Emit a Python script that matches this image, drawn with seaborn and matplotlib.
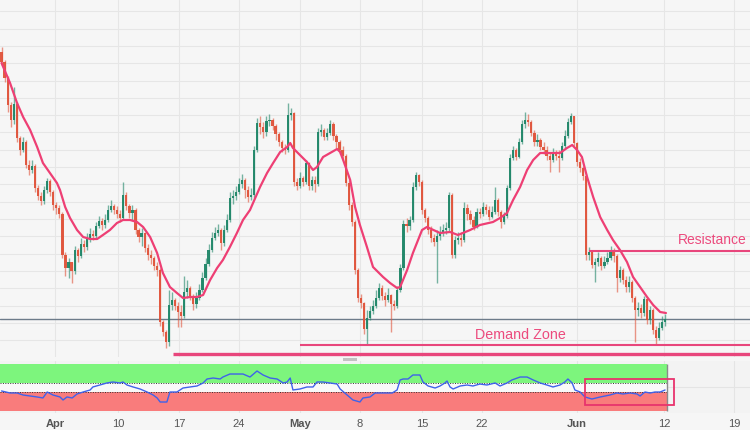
import numpy as np
import pandas as pd
import matplotlib
matplotlib.use("Agg")
import matplotlib.pyplot as plt
import seaborn as sns
from matplotlib.patches import Rectangle

sns.set_theme(style="white")
plt.rcParams['font.family'] = ['Liberation Sans', 'DejaVu Sans']

# ---------------- data (arbitrary price units) ----------------
first_open = 348
close = [338, 322, 295, 280, 296, 262, 250, 258, 235, 230,
         234, 212, 204, 199, 210, 219, 208, 195, 192, 186,
         145, 132, 138, 129, 150, 144, 156, 153, 162, 166,
         164, 174, 179, 175, 180, 190, 194, 190, 186, 182,
         205, 194, 187, 190, 170, 163, 167, 152, 145, 142,
         134, 130, 78, 68, 58, 95, 100, 94, 88, 84,
         108, 112, 104, 96, 102, 110, 122, 136, 150, 162,
         167, 170, 157, 170, 180, 202, 204, 208, 216, 220,
         210, 203, 205, 250, 277, 273, 268, 279, 280, 274,
         266, 258, 252, 250, 285, 287, 218, 214, 222, 218,
         237, 214, 220, 216, 268, 270, 263, 267, 276, 264,
         258, 250, 244, 217, 195, 178, 130, 102, 97, 71,
         82, 89, 94, 102, 112, 104, 100, 105, 96, 94,
         110, 132, 176, 174, 180, 213, 225, 218, 190, 182,
         170, 162, 158, 164, 168, 170, 172, 205, 145, 160,
         162, 160, 192, 186, 180, 173, 188, 186, 193, 190,
         183, 188, 200, 188, 178, 184, 212, 242, 250, 243,
         258, 276, 280, 278, 267, 258, 260, 253, 250, 244,
         240, 247, 244, 242, 254, 264, 278, 284, 257, 238,
         232, 224, 145, 148, 135, 138, 142, 134, 138, 142,
         148, 144, 122, 130, 120, 113, 118, 102, 90, 92,
         87, 101, 80, 90, 70, 62, 72, 78, 81]
high = [353, 340, 324, 298, 313, 298, 264, 263, 260, 240,
        240, 236, 215, 208, 214, 222, 221, 210, 198, 195,
        188, 148, 142, 138, 154, 152, 162, 160, 167, 172,
        170, 178, 184, 182, 186, 195, 200, 196, 194, 190,
        218, 208, 196, 195, 192, 172, 172, 168, 156, 150,
        144, 138, 132, 80, 70, 110, 108, 102, 98, 95,
        124, 120, 114, 106, 108, 116, 128, 142, 156, 168,
        173, 176, 172, 175, 186, 208, 210, 214, 222, 226,
        222, 214, 212, 254, 282, 284, 278, 284, 286, 282,
        276, 268, 260, 256, 297, 292, 288, 222, 228, 224,
        240, 238, 224, 224, 272, 276, 272, 272, 280, 278,
        266, 260, 254, 246, 220, 198, 180, 132, 106, 98,
        90, 94, 100, 110, 117, 115, 108, 112, 106, 100,
        114, 136, 180, 182, 184, 218, 228, 226, 220, 192,
        184, 174, 166, 170, 174, 176, 178, 208, 207, 164,
        168, 168, 198, 196, 190, 184, 192, 192, 198, 196,
        194, 194, 213, 202, 190, 188, 215, 246, 254, 252,
        262, 280, 288, 286, 280, 270, 266, 262, 258, 254,
        248, 252, 250, 250, 258, 270, 282, 287, 284, 258,
        242, 234, 226, 153, 150, 142, 148, 144, 144, 148,
        154, 152, 146, 134, 132, 124, 124, 120, 104, 98,
        96, 104, 102, 94, 92, 74, 78, 84, 86]
low = [335, 318, 288, 273, 276, 258, 245, 248, 232, 225,
       227, 208, 200, 195, 196, 207, 204, 190, 186, 182,
       142, 124, 122, 117, 126, 138, 142, 148, 150, 158,
       160, 162, 172, 170, 172, 178, 188, 186, 182, 178,
       180, 190, 182, 180, 166, 158, 154, 148, 140, 136,
       130, 124, 74, 64, 52, 54, 90, 90, 73, 73,
       82, 102, 100, 90, 92, 100, 108, 120, 134, 148,
       160, 164, 150, 154, 168, 178, 196, 200, 206, 212,
       202, 198, 200, 202, 248, 266, 262, 264, 274, 270,
       260, 254, 248, 246, 248, 280, 214, 210, 212, 214,
       216, 210, 210, 208, 214, 264, 260, 260, 265, 260,
       252, 246, 240, 214, 190, 174, 126, 98, 92, 66,
       55, 80, 86, 92, 100, 100, 94, 98, 68, 90,
       92, 108, 130, 168, 170, 178, 210, 214, 186, 178,
       166, 158, 154, 117, 160, 164, 166, 168, 142, 142,
       156, 154, 158, 180, 176, 170, 172, 182, 184, 186,
       180, 182, 186, 184, 172, 176, 182, 210, 240, 240,
       242, 256, 272, 274, 264, 254, 254, 250, 246, 240,
       228, 238, 240, 228, 240, 252, 262, 276, 254, 234,
       228, 220, 140, 140, 132, 118, 134, 130, 132, 136,
       140, 138, 108, 118, 116, 108, 108, 98, 58, 84,
       82, 84, 76, 76, 66, 55, 60, 70, 74]

ma_x = [0, 2.8, 5.1, 7.1, 9.4, 11.7, 13.6, 15.9, 18.2, 19.2, 20.9, 22.5, 24.8, 26.8,
        29.1, 31.4, 33.3, 35.6, 37.9, 39.9, 42.2, 44.5, 46.5, 48.8, 51.1, 53.0, 55.3,
        57.6, 59.6, 61.9, 64.2, 66.2, 68.5, 70.8, 72.7, 75.0, 77.3, 79.3, 81.6, 82.6,
        84.9, 87.2, 89.2, 91.5, 93.8, 94.8, 95.7, 98.0, 100.3, 102.3, 103.6, 105.6,
        107.9, 110.2, 111.2, 112.2, 114.5, 116.1, 117.7, 120.0, 122.0, 125.3, 127.6,
        129.9, 130.9, 133.2, 135.1, 138.1, 139.7, 144.0, 147.3, 149.9, 153.9, 157.1,
        161.4, 163.7, 166.0, 168.0, 170.3, 172.6, 174.6, 176.9, 179.1, 181.1, 183.4,
        185.7, 187.4, 189.0, 190.6, 192.3, 194.3, 196.6, 198.9, 200.8, 203.1, 205.4,
        207.4, 209.7, 212.0, 214.0, 216.3, 218.2]
ma_y = [337, 317, 297, 283, 270, 253, 237, 227, 217, 210, 193, 182, 170, 163,
        161, 161, 165, 170, 177, 180, 180, 178, 173, 163, 147, 127, 113,
        107, 102, 103, 103, 105, 120, 132, 140, 153, 167, 180, 190, 197,
        213, 227, 237, 248, 253, 257, 252, 245, 238, 230, 233, 243,
        247, 251, 248, 240, 220, 193, 175, 153, 133, 123, 117,
        112, 113, 130, 147, 170, 173, 167, 168, 165, 170, 175,
        178, 182, 187, 200, 213, 230, 240, 247, 247, 247, 247,
        252, 255, 250, 243, 223, 203, 183, 170, 160, 150, 138,
        123, 113, 103, 95, 88, 87]

rsi_x = [0, 2.8, 5.1, 7.1, 9.4, 11.7, 13.6, 15.0, 16.9, 19.2, 20.2, 21.5, 23.2, 24.8,
         26.8, 29.1, 30.0, 32.3, 34.6, 36.6, 38.9, 39.9, 41.2, 43.2, 45.5, 47.8, 49.8,
         51.1, 52.1, 54.3, 55.3, 57.6, 59.6, 61.9, 64.2, 66.2, 67.5, 69.5, 71.8, 72.7,
         75.0, 77.3, 79.3, 81.6, 83.9, 85.9, 88.2, 90.5, 92.5, 93.8, 94.8, 95.7, 98.0,
         100.3, 102.3, 103.6, 105.6, 107.9, 110.2, 111.2, 113.5, 115.4, 117.7, 118.7,
         121.0, 122.7, 126.0, 128.3, 129.9, 130.9, 131.9, 133.5, 135.1, 137.4, 138.4,
         140.1, 142.4, 144.0, 145.6, 146.3, 147.3, 148.3, 150.6, 152.9, 154.8, 157.1,
         159.4, 162.1, 163.7, 166.0, 167.6, 170.3, 172.6, 174.6, 176.9, 179.1, 181.1,
         183.4, 185.0, 186.0, 187.4, 188.3, 190.0, 191.6, 193.9, 196.6, 199.8, 202.1,
         204.1, 206.4, 208.7, 209.7, 211.3, 213.0, 214.6, 216.3, 217.9]
rsi_y = [42.6, 38.3, 38.3, 34.0, 31.9, 29.8, 27.7, 40.4, 34.0, 29.8, 23.4, 29.8, 27.7, 36.2,
         40.4, 44.7, 51.1, 55.3, 59.6, 61.7, 59.6, 61.7, 55.3, 51.1, 46.8, 40.4, 34.0,
         27.7, 19.1, 19.1, 40.4, 40.4, 48.9, 51.1, 53.2, 59.6, 68.1, 70.2, 68.1, 72.3,
         78.7, 78.7, 78.7, 72.3, 85.1, 76.6, 70.2, 68.1, 59.6, 61.7, 70.2, 44.7, 46.8,
         51.1, 51.1, 61.7, 61.7, 59.6, 57.4, 46.8, 34.0, 23.4, 19.1, 27.7,
         29.8, 38.3, 38.3, 38.3, 44.7, 66.0, 68.1, 68.1, 76.6, 76.6, 61.7,
         53.2, 48.9, 53.2, 59.6, 63.8, 51.1, 46.8, 53.2, 55.3, 53.2, 57.4,
         55.3, 59.6, 53.2, 59.6, 66.0, 72.3, 72.3, 66.0, 59.6, 55.3, 51.1,
         55.3, 61.7, 68.1, 59.6, 44.7, 40.4, 29.8, 25.5, 29.8, 34.0, 38.3,
         36.2, 38.3, 36.2, 31.9, 40.4, 38.3, 40.4, 40.4, 44.7]

tick_pos = [17.6, 38.3, 58.3, 78.0, 98.0, 117.7, 138.1, 157.8, 189.0, 217.6, 240.6]
tick_labels = ['Apr', '10', '17', '24', 'May', '8', '15', '22', 'Jun', '12', '19']
month_labels = {'Apr', 'May', 'Jun'}

demand_low, demand_low_start = 46, 56.2
demand_high, demand_high_start = 55, 97.9
resistance, resistance_start = 149, 193.0
last_price = 81
rsi_upper, rsi_lower = 60, 40
rsi_box = (191.5, 220.7, 12.8, 68.0)
band_end = 218.7

# ---------------- build candle frame ----------------
df = pd.DataFrame({'close': close, 'high': high, 'low': low})
df['idx'] = np.arange(len(df))
df['open'] = [first_open] + close[:-1]
df['high'] = df[['high', 'open', 'close']].max(axis=1)
df['low'] = df[['low', 'open', 'close']].min(axis=1)
df['up'] = df['close'] >= df['open']
df['bottom'] = df[['open', 'close']].min(axis=1)
df['height'] = (df['close'] - df['open']).abs().clip(lower=0.8)

GREEN = '#1f8668'
RED = '#e0533a'
PINK = '#ee3f74'
BG = '#f6f6f6'

fig = plt.figure(figsize=(7.5, 4.3), dpi=100, facecolor=BG)

# ---------------- main price panel ----------------
ax = fig.add_axes([0, 73 / 430, 1, 357 / 430])
ax.set_facecolor(BG)
ax.set_xlim(-0.5, 245.8)
ax.set_ylim(43, 400)
ax.set_yticks(np.arange(59.9, 400, 17.3))
ax.set_xticks(tick_pos)
ax.grid(True, color='#e6e6e6', lw=0.8)
ax.tick_params(labelbottom=False, labelleft=False, length=0)
for s in ax.spines.values():
    s.set_visible(False)

ax.axhline(last_price, color='#6d7b8a', lw=1.0, zorder=2)

wick_cols = np.where(df['up'], GREEN, RED)
ax.vlines(df['idx'], df['low'], df['high'], colors=wick_cols, lw=1.0, alpha=0.6, zorder=3)
ax.bar(df['idx'], df['height'], bottom=df['bottom'], width=0.72,
       color=wick_cols, alpha=0.95, lw=0, zorder=4)

sns.lineplot(x=ma_x, y=ma_y, ax=ax, color=PINK, lw=1.6, estimator=None, sort=False, zorder=5)

ax.hlines(demand_low, demand_low_start, 246, color='#e8467c', lw=2.4, zorder=5)
ax.hlines(demand_high, demand_high_start, 246, color='#e8467c', lw=1.5, zorder=5)
ax.hlines(resistance, resistance_start, 246, color='#e8467c', lw=1.5, zorder=5)

ax.text(170.4, 65, 'Demand Zone', ha='center', va='center', color='#ec4a7d', fontsize=10.3)
ax.text(233.5, 160, 'Resistance', ha='center', va='center', color='#ec4a7d', fontsize=10.0)

# panel separator handle
fig.add_artist(Rectangle((343 / 750, (430 - 361) / 430), 14 / 750, 3 / 430,
                         transform=fig.transFigure, color='#c2c2c2', lw=0))

# ---------------- RSI panel ----------------
axr = fig.add_axes([0, 17 / 430, 1, 52 / 430])
axr.set_facecolor('#f3f3f3')
axr.set_xlim(-0.5, 245.8)
axr.set_ylim(-4.3, 106.4)
axr.set_yticks([50])
axr.grid(True, color='#e4e4e4', lw=0.8)
for s in axr.spines.values():
    s.set_visible(False)

axr.fill_between([-0.5, band_end], rsi_upper, 100, color='#7df57d', lw=0, zorder=1)
axr.fill_between([-0.5, band_end], 0, rsi_lower, color='#f97c7c', lw=0, zorder=1)
axr.fill_between([-0.5, band_end], rsi_lower, rsi_upper, color='#f9f9f9', lw=0, zorder=1)
axr.hlines([rsi_upper, rsi_lower], -0.5, band_end, colors='#333333', lw=0.7,
           linestyles=(0, (1, 1.5)), zorder=2)
axr.vlines(band_end, 0, 100, color='#8a8a8a', lw=1.0, zorder=2)

sns.lineplot(x=rsi_x, y=rsi_y, ax=axr, color='#3f62ea', lw=1.0, estimator=None, sort=False, zorder=3)

bx0, bx1, by0, by1 = rsi_box
axr.add_patch(Rectangle((bx0, by0), bx1 - bx0, by1 - by0, fill=False,
                        edgecolor='#e8336d', lw=1.3, zorder=4))

axr.set_xticks(tick_pos)
axr.set_xticklabels(tick_labels)
axr.tick_params(axis='x', length=0, pad=4, labelsize=8, labelcolor='#555555')
axr.tick_params(axis='y', labelleft=False, length=0)
for lab in axr.get_xticklabels():
    if lab.get_text() in month_labels:
        lab.set_fontweight('bold')
axr.set_xlabel('')
axr.set_ylabel('')
ax.set_xlabel('')
ax.set_ylabel('')

fig.savefig('out.png', dpi=100, facecolor=BG)
